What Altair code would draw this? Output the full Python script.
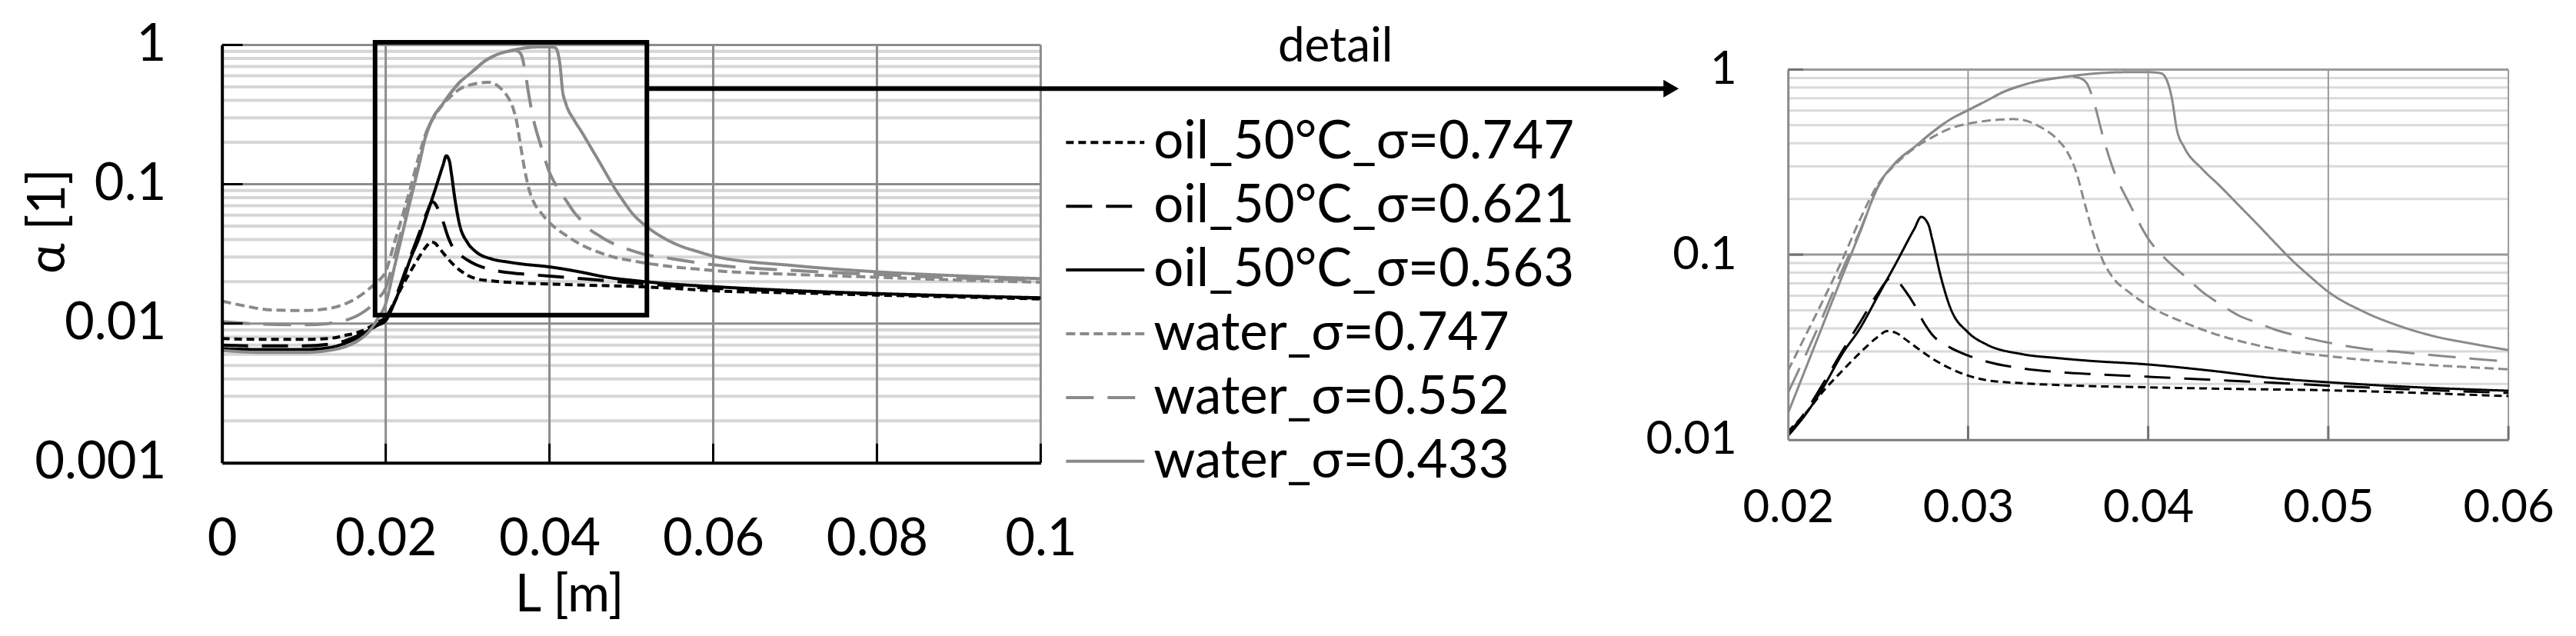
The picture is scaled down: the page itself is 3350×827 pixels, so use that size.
import altair as alt
import pandas as pd

# ---------------- data ----------------
SERIES = ["oil_50°C_σ=0.747", "oil_50°C_σ=0.621", "oil_50°C_σ=0.563",
          "water_σ=0.747", "water_σ=0.552", "water_σ=0.433"]

X_OIL_747 = [0, 0.005, 0.01, 0.013, 0.015, 0.017, 0.018, 0.019, 0.02, 0.021, 0.022, 0.023, 0.024,
             0.025, 0.0255, 0.026, 0.0265, 0.027, 0.028, 0.029, 0.03, 0.031, 0.033, 0.036, 0.04,
             0.045, 0.05, 0.055, 0.06, 0.07, 0.08, 0.09, 0.1]
A_OIL_747 = [0.0078, 0.0077, 0.0077, 0.0078, 0.0082, 0.0088, 0.0094, 0.0102, 0.0111, 0.014, 0.0185,
             0.0235, 0.0295, 0.036, 0.0386, 0.0378, 0.035, 0.0322, 0.0275, 0.0243, 0.0222, 0.021,
             0.0202, 0.0196, 0.0192, 0.0188, 0.0185, 0.0179, 0.0172, 0.0166, 0.016, 0.0155, 0.015]

X_OIL_621 = [0, 0.005, 0.01, 0.013, 0.015, 0.017, 0.018, 0.019, 0.02, 0.021, 0.022, 0.023, 0.024,
             0.025, 0.0257, 0.026, 0.0265, 0.027, 0.0276, 0.028, 0.029, 0.03, 0.031, 0.033, 0.035,
             0.037, 0.04, 0.043, 0.047, 0.05, 0.054, 0.06, 0.07, 0.08, 0.09, 0.1]
A_OIL_621 = [0.0070, 0.0069, 0.0069, 0.0071, 0.0075, 0.0084, 0.0091, 0.0099, 0.0107, 0.0143, 0.0205,
             0.030, 0.043, 0.062, 0.0746, 0.073, 0.064, 0.054, 0.042, 0.037, 0.0315, 0.0285, 0.0265,
             0.0243, 0.0232, 0.0226, 0.0219, 0.0212, 0.0203, 0.0196, 0.0188, 0.0179, 0.0170, 0.0163,
             0.0157, 0.0152]

X_OIL_563 = [0, 0.005, 0.01, 0.013, 0.015, 0.017, 0.018, 0.019, 0.02, 0.021, 0.022, 0.023, 0.024,
             0.025, 0.026, 0.027, 0.0274, 0.0278, 0.028, 0.0285, 0.029, 0.03, 0.031, 0.033, 0.035,
             0.0365, 0.04, 0.0435, 0.047, 0.0505, 0.054, 0.06, 0.07, 0.08, 0.09, 0.1]
A_OIL_563 = [0.0066, 0.0065, 0.0065, 0.0067, 0.0072, 0.0082, 0.0090, 0.0097, 0.0105, 0.0138, 0.0195,
             0.029, 0.040, 0.060, 0.090, 0.137, 0.160, 0.145, 0.122, 0.075, 0.052, 0.038, 0.0328,
             0.0290, 0.0276, 0.0268, 0.0255, 0.0236, 0.0215, 0.0203, 0.0194, 0.0184, 0.0172, 0.0164,
             0.0158, 0.0153]

X_WATER_747 = [0, 0.003, 0.006, 0.01, 0.013, 0.015, 0.017, 0.018, 0.019, 0.02, 0.021, 0.022, 0.023,
               0.024, 0.025, 0.026, 0.027, 0.028, 0.029, 0.03, 0.031, 0.032, 0.0325, 0.033, 0.034,
               0.035, 0.0355, 0.036, 0.0365, 0.037, 0.0375, 0.038, 0.039, 0.04, 0.042, 0.044, 0.046,
               0.048, 0.05, 0.052, 0.054, 0.056, 0.058, 0.06, 0.07, 0.08, 0.09, 0.1]
A_WATER_747 = [0.0145, 0.0133, 0.0125, 0.0124, 0.0128, 0.0138, 0.016, 0.0178, 0.020, 0.0236, 0.037,
               0.058, 0.093, 0.155, 0.24, 0.31, 0.375, 0.43, 0.48, 0.51, 0.528, 0.538, 0.540, 0.535,
               0.49, 0.415, 0.36, 0.28, 0.185, 0.125, 0.092, 0.076, 0.062, 0.053, 0.043, 0.0365,
               0.0325, 0.0298, 0.0283, 0.0270, 0.0260, 0.0252, 0.0246, 0.0240, 0.0225, 0.0215,
               0.0205, 0.0198]

X_WATER_552 = [0, 0.005, 0.01, 0.013, 0.015, 0.017, 0.018, 0.019, 0.02, 0.021, 0.022, 0.023, 0.024,
               0.025, 0.026, 0.027, 0.028, 0.029, 0.03, 0.031, 0.032, 0.033, 0.034, 0.035, 0.0357,
               0.0362, 0.0366, 0.037, 0.0375, 0.038, 0.039, 0.04, 0.041, 0.042, 0.043, 0.044, 0.045,
               0.046, 0.047, 0.048, 0.05, 0.052, 0.054, 0.056, 0.058, 0.06, 0.07, 0.08, 0.09, 0.1]
A_WATER_552 = [0.0103, 0.0099, 0.0098, 0.0100, 0.0105, 0.0118, 0.0130, 0.0150, 0.0179, 0.029, 0.048,
               0.082, 0.135, 0.232, 0.316, 0.38, 0.457, 0.537, 0.603, 0.676, 0.759, 0.822, 0.871,
               0.902, 0.918, 0.90, 0.84, 0.66, 0.43, 0.30, 0.185, 0.122, 0.094, 0.077, 0.063, 0.054,
               0.047, 0.043, 0.0395, 0.037, 0.0335, 0.031, 0.0298, 0.0285, 0.0274, 0.0264, 0.024,
               0.0225, 0.0212, 0.0205]

X_WATER_433 = [0, 0.005, 0.01, 0.013, 0.015, 0.017, 0.018, 0.019, 0.02, 0.021, 0.022, 0.023, 0.024,
               0.025, 0.026, 0.027, 0.028, 0.029, 0.03, 0.031, 0.032, 0.033, 0.034, 0.035, 0.036,
               0.037, 0.038, 0.039, 0.04, 0.0407, 0.041, 0.0413, 0.0416, 0.042, 0.043, 0.044, 0.045,
               0.046, 0.047, 0.048, 0.049, 0.05, 0.052, 0.054, 0.056, 0.058, 0.06, 0.07, 0.08, 0.09,
               0.1]
A_WATER_433 = [0.0064, 0.0062, 0.0062, 0.0064, 0.0068, 0.0078, 0.0088, 0.0108, 0.0139, 0.0245,
               0.0432, 0.076, 0.132, 0.234, 0.316, 0.38, 0.457, 0.537, 0.603, 0.676, 0.759, 0.822,
               0.871, 0.902, 0.929, 0.951, 0.964, 0.968, 0.968, 0.955, 0.89, 0.71, 0.47, 0.38, 0.29,
               0.234, 0.186, 0.148, 0.117, 0.093, 0.076, 0.063, 0.049, 0.041, 0.036, 0.033, 0.0305,
               0.026, 0.0235, 0.022, 0.021]

# axis ticks / grid values
X_TICKS_L = [0, 0.02, 0.04, 0.06, 0.08, 0.1]
X_GRID_L = [0.02, 0.04, 0.06, 0.08, 0.1]
Y_TICKS_L = [0.001, 0.01, 0.1, 1]
Y_MAJOR_L = [0.01, 0.1, 1]
Y_MINOR_L = [0.002, 0.003, 0.004, 0.005, 0.006, 0.007, 0.008, 0.009,
             0.02, 0.03, 0.04, 0.05, 0.06, 0.07, 0.08, 0.09,
             0.2, 0.3, 0.4, 0.5, 0.6, 0.7, 0.8, 0.9]
X_TICKS_R = [0.02, 0.03, 0.04, 0.05, 0.06]
X_GRID_R = [0.03, 0.04, 0.05, 0.06]
Y_TICKS_R = [0.01, 0.1, 1]
Y_MAJOR_R = [0.1, 1]
Y_MINOR_R = [0.02, 0.03, 0.04, 0.05, 0.06, 0.07, 0.08, 0.09,
             0.2, 0.3, 0.4, 0.5, 0.6, 0.7, 0.8, 0.9]

# annotation: detail box, arrow, label
BOX_X = [0.0187, 0.0519]
BOX_Y = [0.0115, 1.045]
ARROW_X = [0.0519, 0.1765]
ARROW_Y = 0.486
HEAD_X = 0.1770
DETAIL_X = 0.136
DETAIL_Y = 0.765

# ---------------- styles ----------------
FONT = "Lato"
GRAY = "#8a8a8a"
COLORS = ["#000000", "#000000", "#000000", GRAY, GRAY, GRAY]
DASHES = [[10, 6], [34, 18], [1, 0], [12, 6], [36, 18], [1, 0]]

W_L, H_L = 1066, 544
W_R, H_R = 938, 514
R_TOP = 32

rows = []
for name, xs, ys in zip(SERIES,
                        [X_OIL_747, X_OIL_621, X_OIL_563, X_WATER_747, X_WATER_552, X_WATER_433],
                        [A_OIL_747, A_OIL_621, A_OIL_563, A_WATER_747, A_WATER_552, A_WATER_433]):
    for i, (x, y) in enumerate(zip(xs, ys)):
        rows.append({"series": name, "L": x, "alpha": y, "order": i})
df = pd.DataFrame(rows)

xs_l = alt.Scale(domain=[0, 0.1], nice=False, zero=False)
ys_l = alt.Scale(type="log", domain=[0.001, 1], nice=False)
xs_r = alt.Scale(domain=[0.02, 0.06], nice=False, zero=False)
ys_r = alt.Scale(type="log", domain=[0.01, 1], nice=False, range=[H_R, R_TOP])

AX_XL = alt.Axis(values=X_TICKS_L, format="~g", grid=False, ticks=False, tickSize=0,
                 labelFont=FONT, labelFontSize=67, labelColor="black", labelFlush=False,
                 labelBaseline="alphabetic", labelPadding=120,
                 domainColor="black", domainWidth=4, zindex=1,
                 title="L [m]", titleFont=FONT, titleFontSize=67,
                 titleFontWeight="normal", titleColor="black",
                 titleX=452, titleY=193, titleBaseline="alphabetic")
AX_YL = alt.Axis(values=Y_TICKS_L, format="~g", grid=False, ticks=False, tickSize=0,
                 labelFont=FONT, labelFontSize=67, labelColor="black", labelFlush=False,
                 labelBaseline="middle", labelPadding=73,
                 domainColor="black", domainWidth=4, zindex=1,
                 title="α [1]", titleFont=FONT, titleFontSize=67,
                 titleFontWeight="normal", titleColor="black", titleAngle=270,
                 titleX=-225, titleY=229, titleBaseline="middle")
AX_XR = alt.Axis(values=X_TICKS_R, format="~g", grid=False, ticks=False, tickSize=0,
                 labelFont=FONT, labelFontSize=60, labelColor="black", labelFlush=False,
                 labelBaseline="alphabetic", labelPadding=107,
                 domainColor="#7a7a7a", domainWidth=3, zindex=1, title=None)
AX_YR = alt.Axis(values=Y_TICKS_R, format="~g", grid=False, ticks=False, tickSize=0,
                 labelFont=FONT, labelFontSize=60, labelColor="black", labelFlush=False,
                 labelBaseline="middle", labelPadding=67,
                 domainColor="#8a8a8a", domainWidth=3, zindex=1, title=None)

color_sc = alt.Scale(domain=SERIES, range=COLORS)
dash_sc = alt.Scale(domain=SERIES, range=DASHES)

leg = alt.Legend(title=None, orient="none", legendX=1097, legendY=92, symbolType="stroke",
                 symbolSize=10404, symbolStrokeWidth=4, clipHeight=70, rowPadding=13,
                 labelFont=FONT, labelFontSize=69, labelColor="black", labelOffset=10,
                 labelLimit=2000, padding=0)


def xl(f):
    return alt.X(f, scale=xs_l, axis=AX_XL)


def yl(f):
    return alt.Y(f, scale=ys_l, axis=AX_YL)


def xr(f):
    return alt.X(f, scale=xs_r, axis=AX_XR)


def yr(f):
    return alt.Y(f, scale=ys_r, axis=AX_YR)


# ---------------- left chart ----------------
minor_l = alt.Chart(pd.DataFrame({"v": Y_MINOR_L})).mark_rule(color="#d6d6d6", strokeWidth=4).encode(
    y=yl("v:Q"))
major_l = alt.Chart(pd.DataFrame({"v": Y_MAJOR_L})).mark_rule(color="#8c8c8c", strokeWidth=3).encode(
    y=yl("v:Q"))
vgrid_l = alt.Chart(pd.DataFrame({"v": X_GRID_L})).mark_rule(color="#8c8c8c", strokeWidth=3).encode(
    x=xl("v:Q"))
ytick_l = alt.Chart(pd.DataFrame({"v": Y_MAJOR_L})).mark_rule(color="black", strokeWidth=3).encode(
    y=yl("v:Q"), x=alt.value(0), x2=alt.value(27))
xtick_l = alt.Chart(pd.DataFrame({"v": X_GRID_L})).mark_rule(color="black", strokeWidth=3).encode(
    x=xl("v:Q"), y=alt.value(H_L), y2=alt.value(H_L - 25))

lines_l = alt.Chart(df).mark_line(interpolate="monotone", strokeWidth=4, clip=True).encode(
    x=xl("L:Q"),
    y=yl("alpha:Q"),
    color=alt.Color("series:N", scale=color_sc, legend=leg),
    strokeDash=alt.StrokeDash("series:N", scale=dash_sc, legend=leg),
    order="order:Q",
)

box = alt.Chart(pd.DataFrame({"x": [BOX_X[0]], "x2": [BOX_X[1]], "y": [BOX_Y[0]], "y2": [BOX_Y[1]]})
                ).mark_rect(fill="transparent", stroke="black", strokeWidth=6, clip=False).encode(
    x=xl("x:Q"), x2="x2:Q", y=yl("y:Q"), y2="y2:Q")

arrow = alt.Chart(pd.DataFrame({"x": [ARROW_X[0]], "x2": [ARROW_X[1]], "y": [ARROW_Y]})
                  ).mark_rule(color="black", strokeWidth=6, clip=False).encode(
    x=xl("x:Q"), x2="x2:Q", y=yl("y:Q"))
head = alt.Chart(pd.DataFrame({"x": [HEAD_X], "y": [ARROW_Y]})).mark_point(
    shape="triangle-right", filled=True, color="black", size=529, opacity=1, clip=False).encode(
    x=xl("x:Q"), y=yl("y:Q"))
detail = alt.Chart(pd.DataFrame({"x": [DETAIL_X], "y": [DETAIL_Y], "t": ["detail"]})).mark_text(
    font=FONT, fontSize=62, color="black", align="center", baseline="alphabetic", clip=False).encode(
    x=xl("x:Q"), y=yl("y:Q"), text="t:N")

left = alt.layer(minor_l, major_l, vgrid_l, lines_l, ytick_l, xtick_l, box, arrow, head, detail
                 ).properties(width=W_L, height=H_L)

# ---------------- right chart ----------------
df_r = df[(df["L"] >= 0.02) & (df["L"] <= 0.06)]
minor_r = alt.Chart(pd.DataFrame({"v": Y_MINOR_R})).mark_rule(color="#dadada", strokeWidth=3).encode(
    y=yr("v:Q"))
major_r = alt.Chart(pd.DataFrame({"v": Y_MAJOR_R})).mark_rule(color="#9a9a9a", strokeWidth=3).encode(
    y=yr("v:Q"))
vgrid_r = alt.Chart(pd.DataFrame({"v": X_GRID_R, "lo": [0.01] * 4, "hi": [1] * 4})).mark_rule(
    color="#9a9a9a", strokeWidth=2).encode(x=xr("v:Q"), y=yr("lo:Q"), y2="hi:Q")
ytick_r = alt.Chart(pd.DataFrame({"v": Y_MAJOR_R})).mark_rule(color="#707070", strokeWidth=3).encode(
    y=yr("v:Q"), x=alt.value(0), x2=alt.value(20))
xtick_r = alt.Chart(pd.DataFrame({"v": X_GRID_R})).mark_rule(color="#707070", strokeWidth=3).encode(
    x=xr("v:Q"), y=alt.value(H_R), y2=alt.value(H_R - 18))

lines_r = alt.Chart(df_r).mark_line(interpolate="monotone", strokeWidth=3, clip=True).encode(
    x=xr("L:Q"),
    y=yr("alpha:Q"),
    color=alt.Color("series:N", scale=color_sc, legend=None),
    strokeDash=alt.StrokeDash("series:N", scale=dash_sc, legend=None),
    order="order:Q",
)

right = alt.layer(minor_r, major_r, vgrid_r, lines_r, ytick_r, xtick_r).properties(width=W_R, height=H_R)

chart = alt.hconcat(left, right, spacing=973, bounds="flush").properties(
    padding={"left": 21, "top": 15, "right": 20, "bottom": 20}
).configure_view(stroke="transparent")

chart.save("out.html", embed_options={"renderer": "svg", "actions": False})
